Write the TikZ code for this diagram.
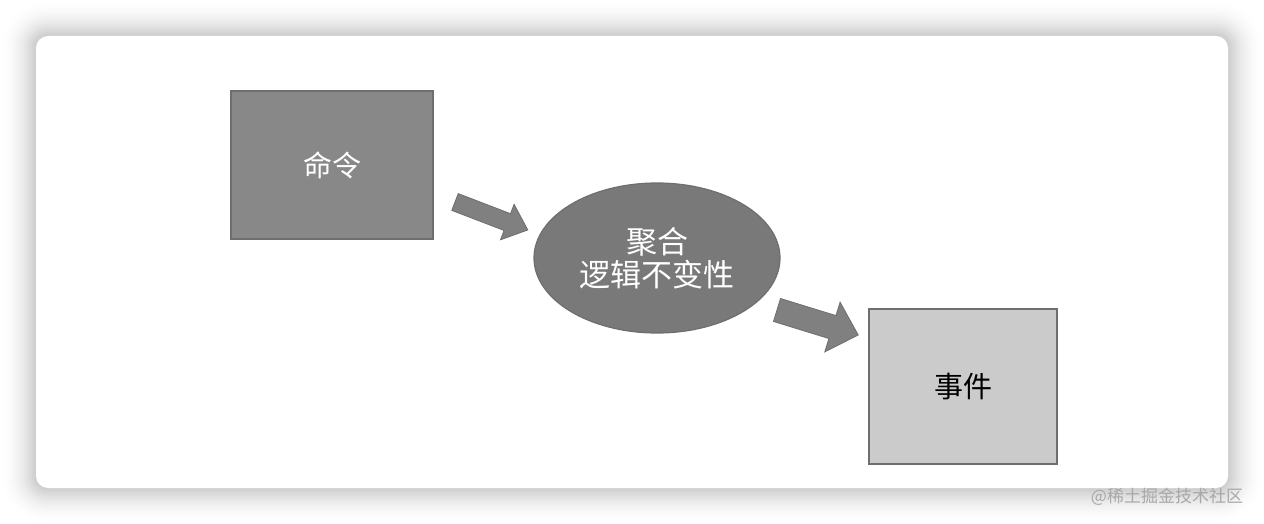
\documentclass[tikz,border=0pt]{standalone}
\usepackage{fontspec}
\newfontfamily\cjk{Noto Sans CJK SC}
\usetikzlibrary{shapes.geometric}
\definecolor{cmdfill}{HTML}{888888}
\definecolor{aggfill}{HTML}{797979}
\definecolor{arrfill}{HTML}{808080}
\definecolor{evfill}{HTML}{CBCBCB}
\definecolor{edge}{HTML}{6E6E6E}
\definecolor{wm}{HTML}{A8A8A8}
\tikzset{
  boxnode/.style={draw=edge, line width=1.2pt, inner sep=0pt, font=\cjk\fontsize{29}{34}\selectfont},
  blockarrow/.style={fill=arrfill, draw=edge, line width=0.8pt, line join=miter},
}
\begin{document}
\begin{tikzpicture}[x=1pt,y=1pt]
\useasboundingbox (0,0) rectangle (1264,-524);
\fill[white] (0,0) rectangle (1264,-524);
% card shadow (solid layers, outer light to inner dark)
\foreach \i in {18,17,...,1}{
  \pgfmathsetmacro{\p}{19*((19-\i)/18)^2}
  \fill[black!\p!white, rounded corners={12+\i*2}] (36-\i*2,-36+\i*2) rectangle (1228+\i*2,-488-\i*2);
}
% card
\fill[white, rounded corners=12] (36,-36) rectangle (1228,-488);
% nodes
\node[boxnode, fill=cmdfill, text=white, minimum width=202pt, minimum height=148pt] (cmd) at (332,-165) {命令};
\node[boxnode, fill=aggfill, text=white, ellipse, minimum width=246pt, minimum height=150pt, align=center, font=\cjk\fontsize{31}{33}\selectfont] (agg) at (657,-258) {聚合\\逻辑不变性};
\node[boxnode, fill=evfill, text=black, minimum width=188pt, minimum height=155pt] (ev) at (963,-386.5) {事件};
% block arrows
\begin{scope}[shift={(455,-202)}, rotate=-21]
  \coordinate (a1tail) at (0,0);
  \coordinate (a1tip) at (78,0);
  \draw[blockarrow] (0,9) -- (56,9) -- (56,19) -- (a1tip) -- (56,-19) -- (56,-9) -- (0,-9) -- cycle;
\end{scope}
\begin{scope}[shift={(777,-310)}, rotate=-17.1]
  \coordinate (a2tail) at (0,0);
  \coordinate (a2tip) at (85,0);
  \draw[blockarrow] (0,12) -- (58,12) -- (58,26) -- (a2tip) -- (58,-26) -- (58,-12) -- (0,-12) -- cycle;
\end{scope}
% watermark
\node[text=wm, font=\cjk\fontsize{17}{20}\selectfont, inner sep=0pt] (wmark) at (1167,-497) {@稀土掘金技术社区};
\end{tikzpicture}
\end{document}
